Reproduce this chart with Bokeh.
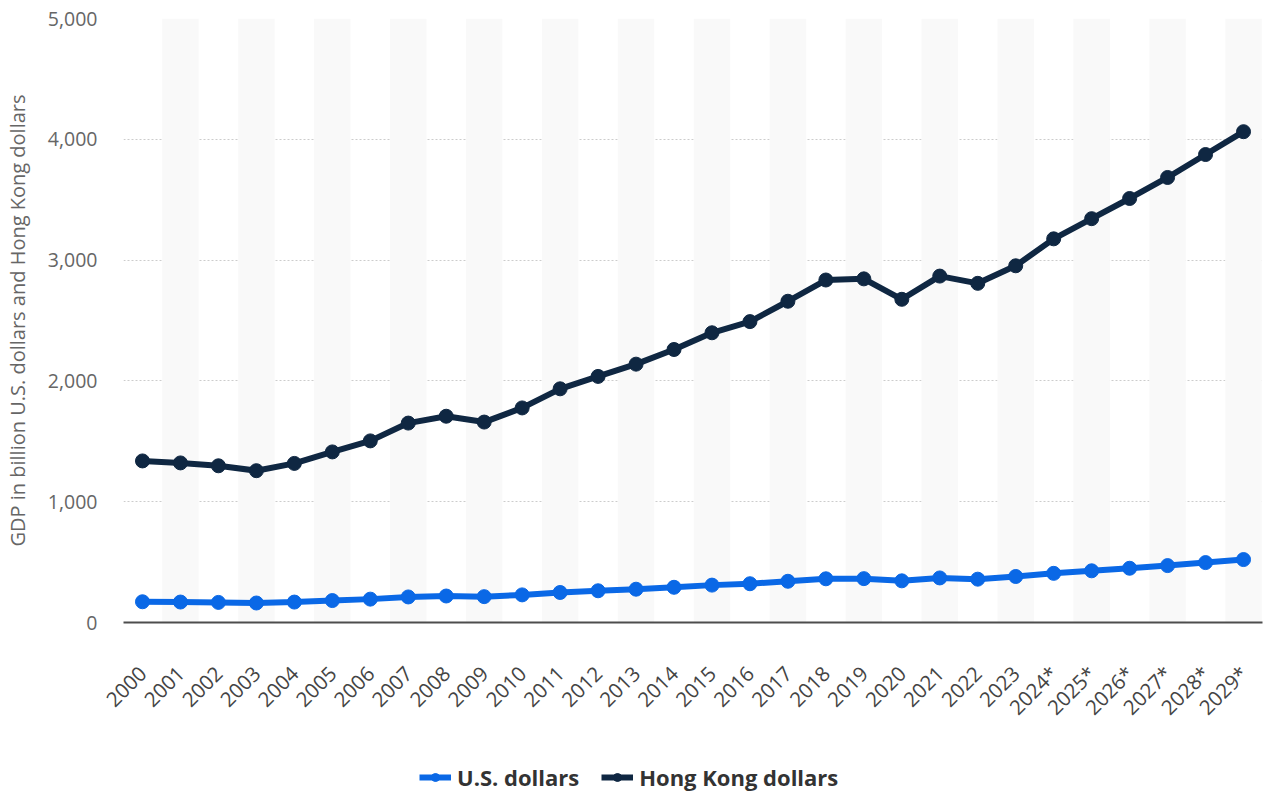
from bokeh.plotting import figure
from bokeh.layouts import column
from bokeh.models import Range1d, Legend, LegendItem, NumeralTickFormatter, FixedTicker
from bokeh.embed import file_html
from bokeh.resources import INLINE

years = ["2000", "2001", "2002", "2003", "2004", "2005", "2006", "2007", "2008", "2009",
         "2010", "2011", "2012", "2013", "2014", "2015", "2016", "2017", "2018", "2019",
         "2020", "2021", "2022", "2023", "2024*", "2025*", "2026*", "2027*", "2028*", "2029*"]
hkd = [1337.5, 1321.1, 1297.3, 1256.7, 1316.9, 1412.1, 1503.4, 1650.8, 1707.5, 1659.2,
       1776.3, 1934.4, 2037.1, 2138.7, 2260.0, 2398.3, 2490.7, 2659.4, 2835.2, 2844.6,
       2675.4, 2867.7, 2807.6, 2952.9, 3176.0, 3343.0, 3510.0, 3684.0, 3874.0, 4063.0]
usd = [171.7, 169.4, 166.3, 161.4, 169.1, 181.6, 193.5, 211.6, 219.3, 214.0,
       228.6, 248.5, 262.6, 275.7, 291.5, 309.4, 320.9, 341.3, 361.7, 363.1,
       344.9, 368.9, 358.7, 380.8, 406.8, 428.0, 449.0, 471.0, 496.0, 521.0]
y_ticks = [0, 1000, 2000, 3000, 4000, 5000]
series_names = ["U.S. dollars", "Hong Kong dollars"]

FONT = "Open Sans"
DARK = "#0f2742"
BLUE = "#0a68e6"

p = figure(x_range=years, y_range=Range1d(0, 5000), width=1267, height=740,
           output_backend="svg", toolbar_location=None,
           min_border_left=123, min_border_right=5, min_border_top=18, min_border_bottom=118)
p.outline_line_color = None
p.background_fill_color = "white"

# alternating background bands
band_years = years[1::2]
p.vbar(x=band_years, top=5000, bottom=0, width=0.96, fill_color="#f9f9f9", line_color=None)

# grid
p.xgrid.grid_line_color = None
p.ygrid.grid_line_color = "#cccccc"
p.ygrid.grid_line_dash = "2 2"
p.ygrid.grid_line_width = 1
p.ygrid.ticker = FixedTicker(ticks=y_ticks[1:])

# y axis
p.yaxis.ticker = FixedTicker(ticks=y_ticks)
p.yaxis.formatter = NumeralTickFormatter(format="0,0")
p.yaxis.axis_line_color = None
p.yaxis.major_tick_line_color = None
p.yaxis.minor_tick_line_color = None
p.yaxis.major_tick_out = 0
p.yaxis.major_label_standoff = 26
p.yaxis.major_label_text_font = FONT
p.yaxis.major_label_text_font_size = "19.5px"
p.yaxis.major_label_text_color = "#666666"
p.yaxis.axis_label = "GDP in billion U.S. dollars and Hong Kong dollars"
p.yaxis.axis_label_text_font = FONT
p.yaxis.axis_label_text_font_size = "20px"
p.yaxis.axis_label_text_font_style = "normal"
p.yaxis.axis_label_text_color = "#666666"
p.yaxis.axis_label_standoff = 14

# x axis
p.xaxis.axis_line_color = "#4d4d4d"
p.xaxis.axis_line_width = 2
p.xaxis.major_tick_line_color = None
p.xaxis.major_tick_out = 0
p.xaxis.major_label_standoff = 47
p.xaxis.major_label_orientation = 0.785398
p.xaxis.major_label_text_font = FONT
p.xaxis.major_label_text_font_size = "20.5px"
p.xaxis.major_label_text_color = "#444444"

# series
p.line(years, usd, line_color=BLUE, line_width=6)
p.scatter(years, usd, size=14, fill_color=BLUE, line_color=BLUE)
p.line(years, hkd, line_color=DARK, line_width=6)
p.scatter(years, hkd, size=14, fill_color=DARK, line_color=DARK)

# legend strip (its frame is aligned with the chart frame by the column layout)
lg = figure(width=1267, height=52, x_range=Range1d(0, 1), y_range=Range1d(0, 1),
            output_backend="svg", toolbar_location=None, x_axis_type=None, y_axis_type=None,
            min_border_left=123, min_border_right=5, min_border_top=0, min_border_bottom=0)
lg.outline_line_color = None
lg.xgrid.visible = False
lg.ygrid.visible = False
items = []
for name, col in zip(series_names, [BLUE, DARK]):
    # stand-in renderers for the legend swatches only; they sit outside the visible range
    r1 = lg.line([5, 6], [5, 5], line_color=col, line_width=6)
    r2 = lg.scatter([5], [5], size=13, fill_color=col, line_color=col)
    items.append(LegendItem(label=name, renderers=[r1, r2]))
legend = Legend(items=items, orientation="horizontal", location=(296, 0))
legend.label_text_font = FONT
legend.label_text_font_size = "22px"
legend.label_text_font_style = "bold"
legend.label_text_color = "#333333"
legend.border_line_color = None
legend.background_fill_alpha = 0
legend.glyph_width = 32
legend.label_standoff = 6
legend.spacing = 22
legend.margin = 0
legend.padding = 5
lg.add_layout(legend, "center")

open("out.html", "w").write(file_html(column(p, lg, spacing=0), INLINE))
